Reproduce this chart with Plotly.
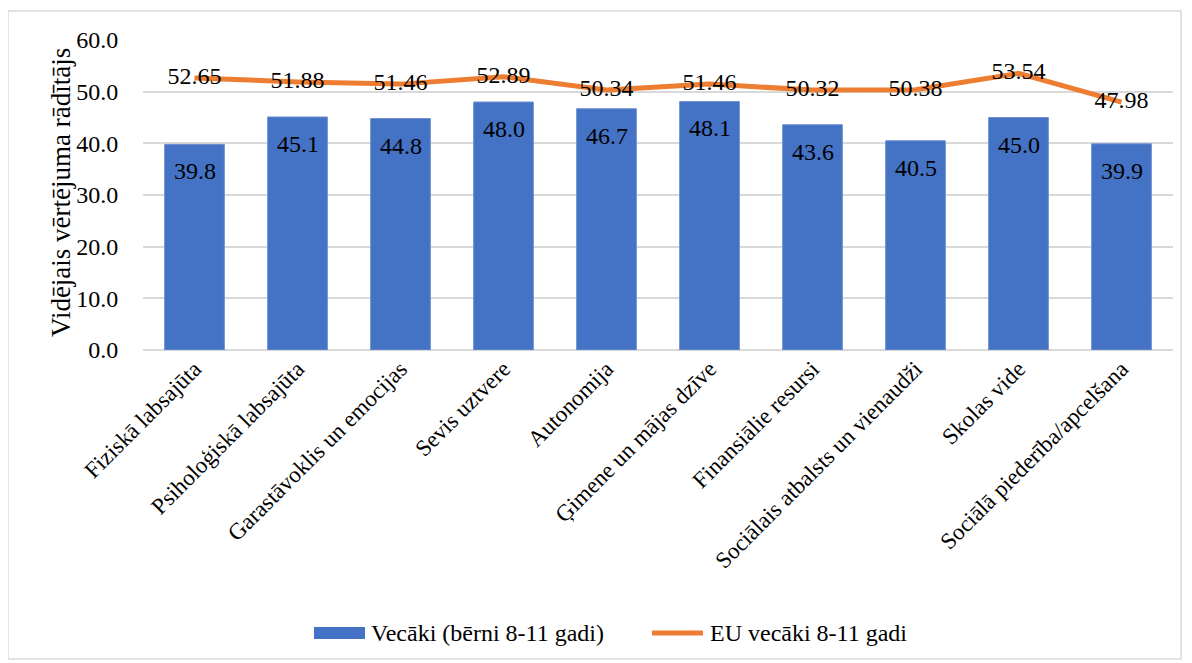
import plotly.graph_objects as go

categories = ["Fiziskā labsajūta", "Psiholoģiskā labsajūta", "Garastāvoklis un emocijas",
              "Sevis uztvere", "Autonomija", "Ģimene un mājas dzīve", "Finansiālie resursi",
              "Sociālais atbalsts un vienaudži", "Skolas vide", "Sociālā piederība/apcelšana"]
parents = [39.8, 45.1, 44.8, 48.0, 46.7, 48.1, 43.6, 40.5, 45.0, 39.9]
eu_parents = [52.65, 51.88, 51.46, 52.89, 50.34, 51.46, 50.32, 50.38, 53.54, 47.98]
y_ticks = [0, 10, 20, 30, 40, 50, 60]
series_names = ["Vecāki (bērni 8-11 gadi)", "EU vecāki 8-11 gadi"]
y_title = "Vidējais vērtējuma rādītājs"

FONT = "Times New Roman, Liberation Serif, serif"
BAR_COLOR = "#4472C4"
LINE_COLOR = "#ED7D31"

OFF = 8  # page body margin
W, H = 1184, 655
L = 143 - OFF
T = 40 - OFF
B = H - (350 - OFF)
R = W - (1173 - OFF)
pw, ph = W - L - R, H - T - B

def px(x):
    return (x - OFF - L) / pw

def py(y):
    return (H - B - (y - OFF)) / ph

fig = go.Figure()
fig.add_trace(go.Bar(
    x=categories, y=parents, name=series_names[0],
    marker=dict(color=BAR_COLOR, line=dict(color="#6F90D0", width=1)),
    width=0.58, showlegend=False,
))
fig.add_trace(go.Scatter(
    x=categories, y=eu_parents, name=series_names[1],
    mode="lines+text", line=dict(color=LINE_COLOR, width=5),
    text=[f"{v:.2f}" for v in eu_parents], textposition="middle center",
    textfont=dict(family=FONT, size=24, color="black"),
    cliponaxis=False, showlegend=False,
))

annotations = []
for c, v in zip(categories, parents):
    annotations.append(dict(x=c, y=v, xref="x", yref="y", text=f"{v:.1f}", showarrow=False,
                            yanchor="middle", yshift=-27,
                            font=dict(family=FONT, size=24, color="black")))
# y-axis title
annotations.append(dict(x=px(61), y=py(193), xref="paper", yref="paper", text=y_title,
                        showarrow=False, textangle=-90, xanchor="center", yanchor="middle",
                        font=dict(family=FONT, size=27, color="black")))
# custom legend (wide Excel-style keys)
annotations.append(dict(x=px(369), y=py(633), xref="paper", yref="paper", text=series_names[0],
                        showarrow=False, xanchor="left", yanchor="middle",
                        font=dict(family=FONT, size=24, color="black")))
annotations.append(dict(x=px(708), y=py(633), xref="paper", yref="paper", text=series_names[1],
                        showarrow=False, xanchor="left", yanchor="middle",
                        font=dict(family=FONT, size=24, color="black")))

shapes = [
    dict(type="rect", xref="paper", yref="paper",
         x0=px(8), x1=px(1181), y0=py(659), y1=py(11),
         line=dict(color="#D9D9D9", width=1.5), fillcolor="rgba(0,0,0,0)", layer="below"),
    dict(type="rect", xref="paper", yref="paper",
         x0=px(314), x1=px(365), y0=py(639), y1=py(627),
         line=dict(width=0), fillcolor=BAR_COLOR),
    dict(type="line", xref="paper", yref="paper",
         x0=px(652), x1=px(703), y0=py(633), y1=py(633),
         line=dict(color=LINE_COLOR, width=5)),
]

fig.update_layout(
    width=W, height=H,
    margin=dict(l=L, r=R, t=T, b=B, autoexpand=False),
    paper_bgcolor="white", plot_bgcolor="white",
    font=dict(family=FONT, size=23, color="black"),
    showlegend=False,
    xaxis=dict(tickangle=-45, tickfont=dict(family=FONT, size=23, color="black"),
               showgrid=False, showline=False, ticks=""),
    yaxis=dict(range=[0, 60], tickvals=y_ticks, tickformat=".1f",
               tickfont=dict(family=FONT, size=24, color="black"),
               ticks="outside", ticklen=19, tickcolor="rgba(0,0,0,0)",
               gridcolor="#D9D9D9", gridwidth=1.5, zeroline=True, zerolinecolor="#D9D9D9",
               zerolinewidth=1.5, showline=False),
    shapes=shapes,
    annotations=annotations,
    bargap=0.42,
)

fig.write_html("out.html")
